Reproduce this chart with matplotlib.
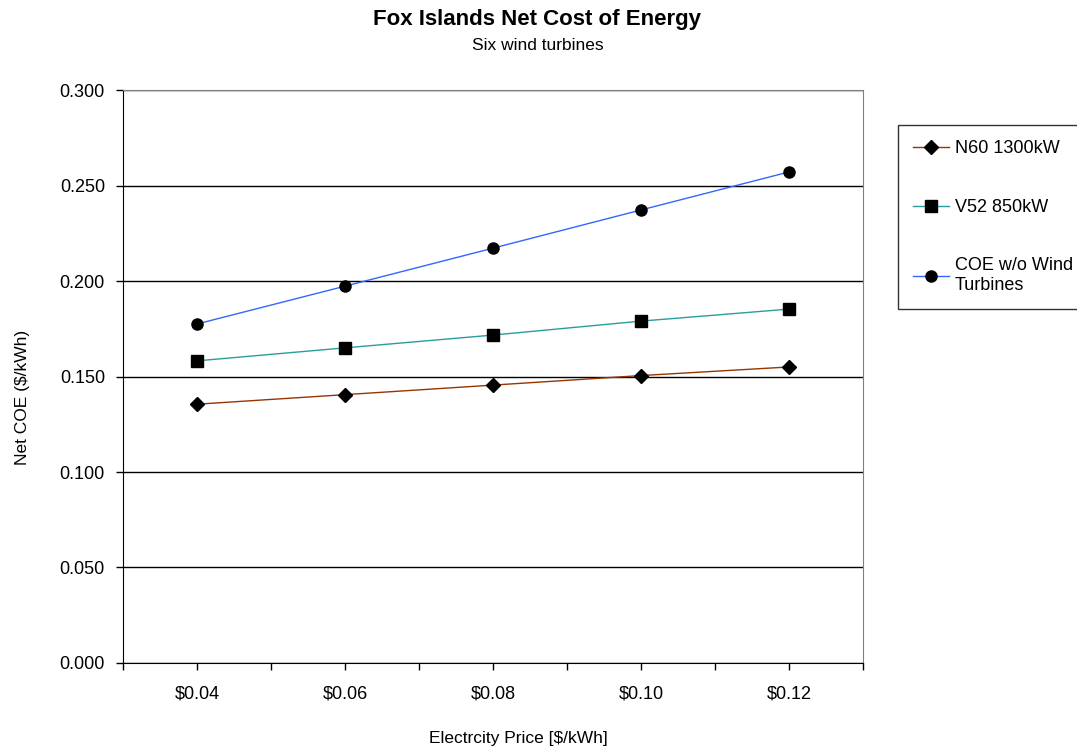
import matplotlib.pyplot as plt
import numpy as np

plt.rcParams['font.family'] = ['Liberation Sans', 'DejaVu Sans']

# electricity price categories ($/kWh) and net cost of energy series
price = [0.04, 0.06, 0.08, 0.10, 0.12]
price_labels = ['$0.04', '$0.06', '$0.08', '$0.10', '$0.12']
n60 = [0.1355, 0.1405, 0.1455, 0.1505, 0.1550]
v52 = [0.1582, 0.1650, 0.1717, 0.1790, 0.1853]
coe_no_wind = [0.1775, 0.1973, 0.2172, 0.2372, 0.2571]

fig = plt.figure(figsize=(10.77, 7.54), dpi=100)
ax = fig.add_axes([0.1142, 0.1207, 0.6871, 0.7599])

ax.plot(price, n60, color='#993300', lw=1, marker='D', ms=7,
        mfc='black', mec='black', label='N60 1300kW')
ax.plot(price, v52, color='#2a9d9d', lw=1, marker='s', ms=8,
        mfc='black', mec='black', label='V52 850kW')
ax.plot(price, coe_no_wind, color='#3366ff', lw=1, marker='o', ms=8,
        mfc='black', mec='black', label='COE w/o Wind\nTurbines')

# tick marks every 0.01, labels only on the price points
xt = np.round(np.arange(0.03, 0.1301, 0.01), 2)
ax.set_xlim(0.03, 0.13)
ax.set_ylim(0, 0.3)
ax.set_xticks(xt)
ax.set_xticklabels([price_labels[price.index(t)] if t in price else '' for t in xt])
ax.set_yticks(np.arange(0, 0.3001, 0.05))
ax.set_yticklabels(['%.3f' % v for v in np.arange(0, 0.3001, 0.05)])
ax.tick_params(axis='both', direction='out', length=5, width=1,
               labelsize=13, colors='black')
ax.tick_params(axis='x', pad=11)
ax.tick_params(axis='y', pad=8)
ax.yaxis.grid(True, color='black', lw=1)
ax.set_axisbelow(True)
for s in ['top', 'right']:
    ax.spines[s].set_color('#808080')
for s in ['left', 'bottom']:
    ax.spines[s].set_color('black')

ax.set_xlabel('Electrcity Price [$/kWh]', fontsize=12.5)
ax.xaxis.set_label_coords(0.534, -0.118)
ax.set_ylabel('Net COE ($/kWh)', fontsize=12.5)
ax.yaxis.set_label_coords(-0.126, 0.464)

fig.text(0.499, 0.974, 'Fox Islands Net Cost of Energy', ha='center', va='center',
         fontsize=16, fontweight='bold')
fig.text(0.499, 0.939, 'Six wind turbines', ha='center', va='center', fontsize=12.5)

leg = fig.legend(loc='upper left', bbox_to_anchor=(898 / 1077, 1 - 125 / 754),
                 fontsize=13, frameon=True, fancybox=False, edgecolor='black',
                 handlelength=2.0, handletextpad=0.3, labelspacing=2.3,
                 borderpad=0.85, borderaxespad=0)
leg.get_frame().set_linewidth(1)

fig.savefig('out.png', dpi=100)
